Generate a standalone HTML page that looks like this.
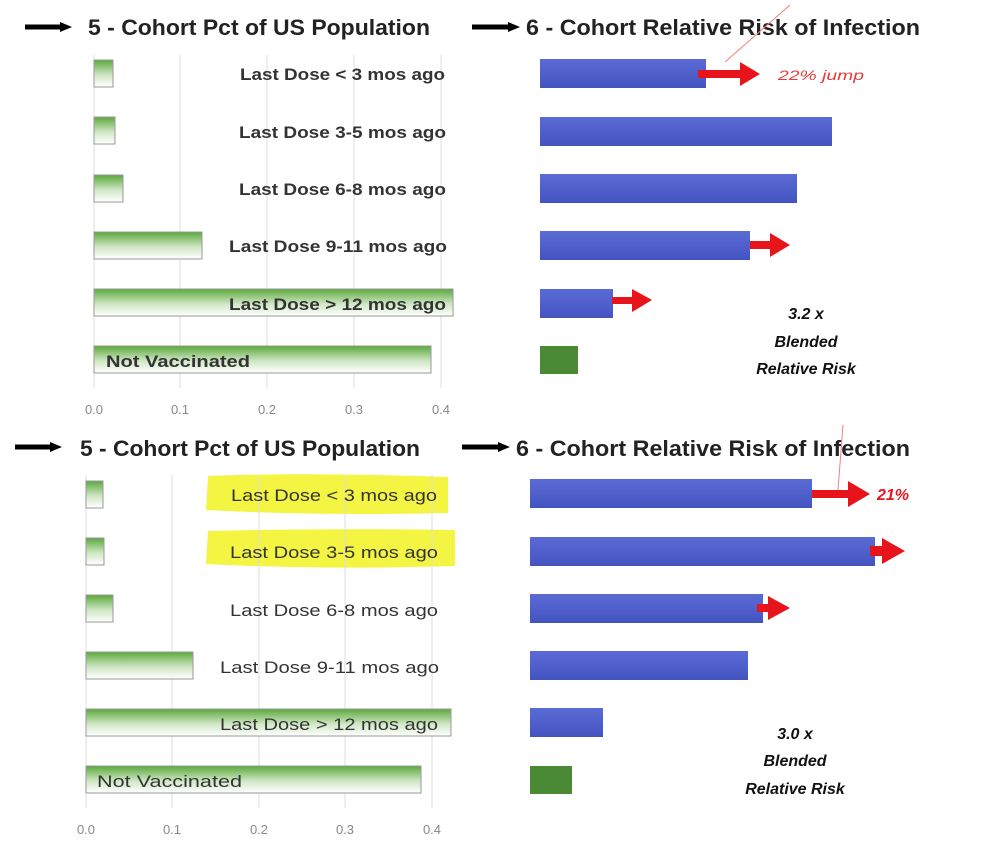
<!DOCTYPE html>
<html><head><meta charset="utf-8"><style>
html,body{margin:0;padding:0;background:#fff;}
svg{display:block;}
text{font-family:"Liberation Sans",sans-serif;}
</style></head><body>
<svg width="988" height="852" viewBox="0 0 988 852" xmlns="http://www.w3.org/2000/svg">
<defs>
<linearGradient id="g" x1="0" y1="0" x2="0" y2="1">
<stop offset="0" stop-color="#5aa83a"/><stop offset="0.55" stop-color="#cfe6c4"/><stop offset="1" stop-color="#ffffff"/>
</linearGradient>
<linearGradient id="b" x1="0" y1="0" x2="0" y2="1">
<stop offset="0" stop-color="#5b6bd6"/><stop offset="1" stop-color="#4354c0"/>
</linearGradient>
</defs>

<!-- TOP PANEL -->
<path d="M25 27 H62" stroke="#000" stroke-width="5"/><path d="M60 22 L72 27 L60 32Z" fill="#000"/>
<text x="88" y="35" font-size="22" font-weight="bold" fill="#222" textLength="342" lengthAdjust="spacingAndGlyphs">5 - Cohort Pct of US Population</text>
<path d="M472 27 H510" stroke="#000" stroke-width="5"/><path d="M508 22 L520 27 L508 32Z" fill="#000"/>
<text x="526" y="35" font-size="22" font-weight="bold" fill="#222" textLength="394" lengthAdjust="spacingAndGlyphs">6 - Cohort Relative Risk of Infection</text>
<line x1="725" y1="62" x2="790" y2="5" stroke="#f08080" stroke-width="1"/>

<g stroke="#ddd" stroke-width="1">
<line x1="94" y1="55" x2="94" y2="388"/><line x1="180" y1="55" x2="180" y2="388"/><line x1="267" y1="55" x2="267" y2="388"/><line x1="354" y1="55" x2="354" y2="388"/><line x1="441" y1="55" x2="441" y2="388"/>
</g>
<g fill="url(#g)" stroke="#999" stroke-width="1">
<rect x="94" y="60" width="19" height="27"/>
<rect x="94" y="117" width="21" height="27"/>
<rect x="94" y="175" width="29" height="27"/>
<rect x="94" y="232" width="108" height="27"/>
<rect x="94" y="289" width="359" height="27"/>
<rect x="94" y="346" width="337" height="27"/>
</g>
<g font-size="17" font-weight="bold" fill="#333">
<text x="240" y="80" textLength="205" lengthAdjust="spacingAndGlyphs">Last Dose &lt; 3 mos ago</text>
<text x="239" y="138" textLength="207" lengthAdjust="spacingAndGlyphs">Last Dose 3-5 mos ago</text>
<text x="239" y="195" textLength="207" lengthAdjust="spacingAndGlyphs">Last Dose 6-8 mos ago</text>
<text x="229" y="252" textLength="218" lengthAdjust="spacingAndGlyphs">Last Dose 9-11 mos ago</text>
<text x="229" y="310" textLength="217" lengthAdjust="spacingAndGlyphs">Last Dose &gt; 12 mos ago</text>
</g>
<text x="106" y="367" font-size="17" font-weight="bold" fill="#333" textLength="144" lengthAdjust="spacingAndGlyphs">Not Vaccinated</text>
<g font-size="13" fill="#888" text-anchor="middle">
<text x="94" y="414">0.0</text><text x="180" y="414">0.1</text><text x="267" y="414">0.2</text><text x="354" y="414">0.3</text><text x="441" y="414">0.4</text>
</g>

<g fill="url(#b)">
<rect x="540" y="59" width="166" height="29"/>
<rect x="540" y="117" width="292" height="29"/>
<rect x="540" y="174" width="257" height="29"/>
<rect x="540" y="231" width="210" height="29"/>
<rect x="540" y="289" width="73" height="29"/>
</g>
<rect x="540" y="346" width="38" height="28" fill="#4a8a35"/>
<g fill="#e8141c">
<path d="M698 70 H740 V62 L760 74 L740 86 V78 H698Z"/>
<path d="M750 241 H770 V233 L790 245 L770 257 V249 H750Z"/>
<path d="M612 297 H632 V289 L652 300 L632 312 V304 H612Z"/>
</g>
<text x="778" y="80" font-size="14" font-style="italic" fill="#e83a3a" textLength="86" lengthAdjust="spacingAndGlyphs">22% jump</text>
<g font-size="16" font-weight="bold" font-style="italic" fill="#111" text-anchor="middle">
<text x="806" y="319">3.2 x</text><text x="806" y="347">Blended</text><text x="806" y="374">Relative Risk</text>
</g>

<!-- BOTTOM PANEL -->
<path d="M15 447 H52" stroke="#000" stroke-width="5"/><path d="M50 442 L62 447 L50 452Z" fill="#000"/>
<text x="80" y="456" font-size="22" font-weight="bold" fill="#222" textLength="340" lengthAdjust="spacingAndGlyphs">5 - Cohort Pct of US Population</text>
<path d="M462 447 H500" stroke="#000" stroke-width="5"/><path d="M498 442 L510 447 L498 452Z" fill="#000"/>
<text x="516" y="456" font-size="22" font-weight="bold" fill="#222" textLength="394" lengthAdjust="spacingAndGlyphs">6 - Cohort Relative Risk of Infection</text>
<line x1="843" y1="425" x2="838" y2="490" stroke="#f08080" stroke-width="1"/>

<path d="M208 476 Q300 472 448 477 L448 513 Q320 516 206 510Z" fill="#f3f542"/>
<path d="M208 531 Q320 528 455 530 L455 566 Q320 570 206 564Z" fill="#f3f542"/>

<g stroke="#ddd" stroke-width="1">
<line x1="86" y1="475" x2="86" y2="808"/><line x1="172" y1="475" x2="172" y2="808"/><line x1="259" y1="475" x2="259" y2="808"/><line x1="345" y1="475" x2="345" y2="808"/><line x1="432" y1="475" x2="432" y2="808"/>
</g>
<g fill="url(#g)" stroke="#999" stroke-width="1">
<rect x="86" y="481" width="17" height="27"/>
<rect x="86" y="538" width="18" height="27"/>
<rect x="86" y="595" width="27" height="27"/>
<rect x="86" y="652" width="107" height="27"/>
<rect x="86" y="709" width="365" height="27"/>
<rect x="86" y="766" width="335" height="27"/>
</g>
<g font-size="17" fill="#333">
<text x="231" y="501" textLength="206" lengthAdjust="spacingAndGlyphs">Last Dose &lt; 3 mos ago</text>
<text x="230" y="558" textLength="208" lengthAdjust="spacingAndGlyphs">Last Dose 3-5 mos ago</text>
<text x="230" y="616" textLength="208" lengthAdjust="spacingAndGlyphs">Last Dose 6-8 mos ago</text>
<text x="220" y="673" textLength="219" lengthAdjust="spacingAndGlyphs">Last Dose 9-11 mos ago</text>
<text x="220" y="730" textLength="218" lengthAdjust="spacingAndGlyphs">Last Dose &gt; 12 mos ago</text>
</g>
<text x="97" y="787" font-size="17" fill="#333" textLength="145" lengthAdjust="spacingAndGlyphs">Not Vaccinated</text>
<g font-size="13" fill="#888" text-anchor="middle">
<text x="86" y="834">0.0</text><text x="172" y="834">0.1</text><text x="259" y="834">0.2</text><text x="345" y="834">0.3</text><text x="432" y="834">0.4</text>
</g>

<g fill="url(#b)">
<rect x="530" y="479" width="282" height="29"/>
<rect x="530" y="537" width="345" height="29"/>
<rect x="530" y="594" width="233" height="29"/>
<rect x="530" y="651" width="218" height="29"/>
<rect x="530" y="708" width="73" height="29"/>
</g>
<rect x="530" y="766" width="42" height="28" fill="#4a8a35"/>
<g fill="#e8141c">
<path d="M812 490 H848 V481 L870 494 L848 507 V498 H812Z"/>
<path d="M870 546 H882 V538 L905 551 L882 564 V556 H870Z"/>
<path d="M757 604 H768 V596 L790 608 L768 620 V612 H757Z"/>
</g>
<text x="877" y="500" font-size="16" font-weight="bold" font-style="italic" fill="#e8141c">21%</text>
<g font-size="16" font-weight="bold" font-style="italic" fill="#111" text-anchor="middle">
<text x="795" y="739">3.0 x</text><text x="795" y="766">Blended</text><text x="795" y="794">Relative Risk</text>
</g>
</svg>
</body></html>
